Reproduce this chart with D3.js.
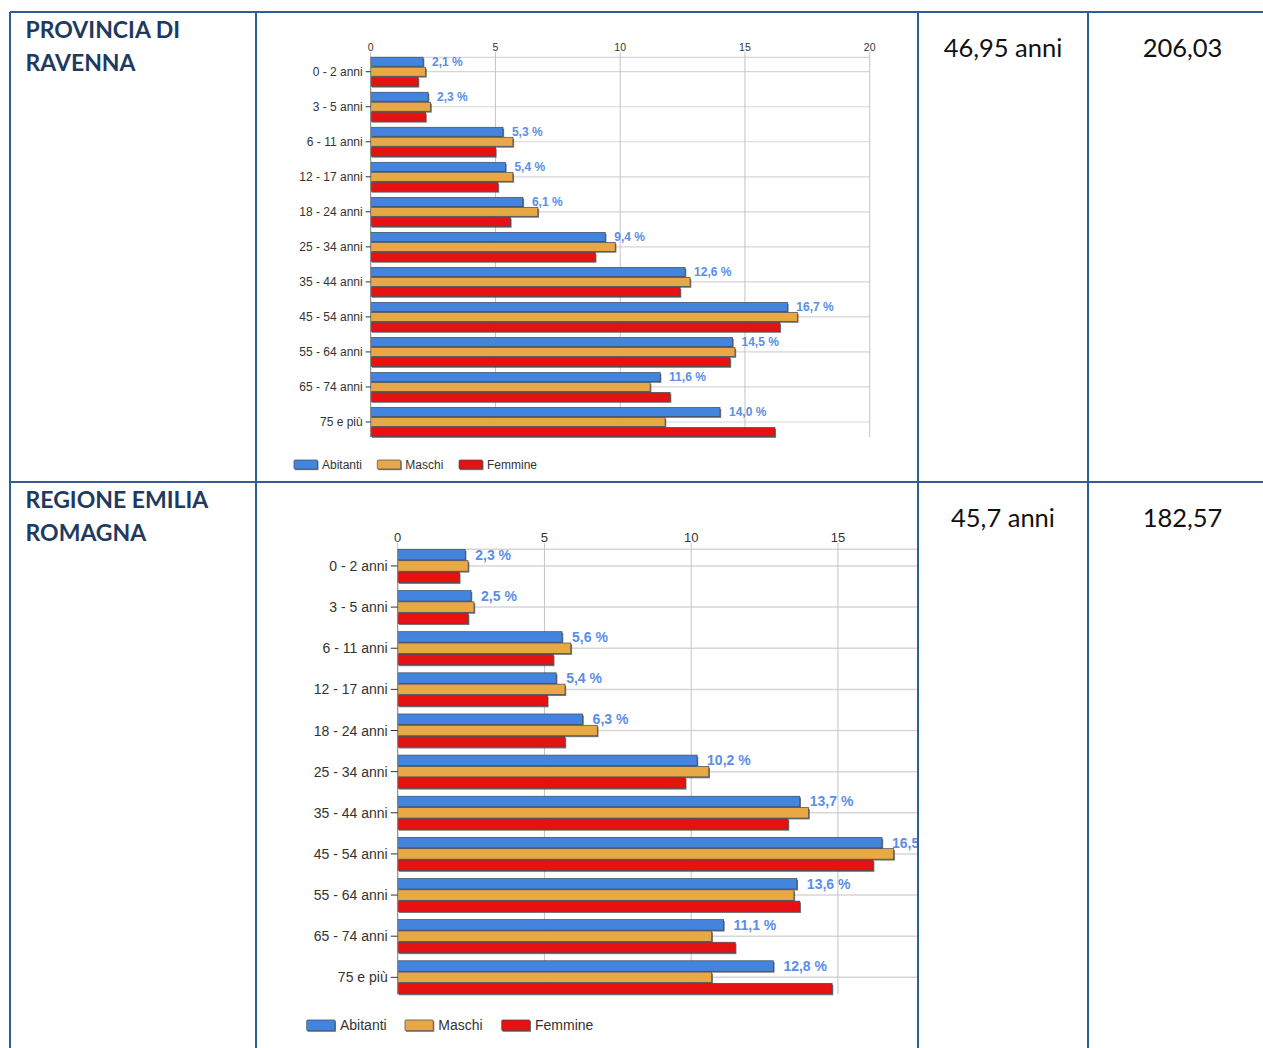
<!DOCTYPE html>
<html><head><meta charset="utf-8">
<script src="https://cdn.jsdelivr.net/npm/d3@7"></script>
<style>html,body{margin:0;padding:0;background:#fff;}svg{display:block;}</style>
</head><body>
<svg id="c" width="1263" height="1048"></svg>
<script>
const categories = ["0 - 2 anni","3 - 5 anni","6 - 11 anni","12 - 17 anni","18 - 24 anni","25 - 34 anni","35 - 44 anni","45 - 54 anni","55 - 64 anni","65 - 74 anni","75 e più"];
const seriesNames = ["Abitanti","Maschi","Femmine"];
const seriesColors = ["#4385de","#e8a846","#e61212"];
const ravennaAbitanti = [2.1,2.3,5.3,5.4,6.1,9.4,12.6,16.7,14.5,11.6,14.0];
const ravennaMaschi   = [2.2,2.4,5.7,5.7,6.7,9.8,12.8,17.1,14.6,11.2,11.8];
const ravennaFemmine  = [1.9,2.2,5.0,5.1,5.6,9.0,12.4,16.4,14.4,12.0,16.2];
const emiliaAbitanti  = [2.3,2.5,5.6,5.4,6.3,10.2,13.7,16.5,13.6,11.1,12.8];
const emiliaMaschi    = [2.4,2.6,5.9,5.7,6.8,10.6,14.0,16.9,13.5,10.7,10.7];
const emiliaFemmine   = [2.1,2.4,5.3,5.1,5.7,9.8,13.3,16.2,13.7,11.5,14.8];
const axisTicks = [0,5,10,15,20];
const rowTitles = [["PROVINCIA DI","RAVENNA"],["REGIONE EMILIA","ROMAGNA"]];
const etaMedia = ["46,95 anni","45,7 anni"];
const indiceVecchiaia = ["206,03","182,57"];

const svg = d3.select("#c");
const FONT = "'Liberation Sans', Arial, sans-serif";
const fmt = v => d3.format(".1f")(v).replace(".", ",") + " %";

function drawChart(series, cfg, id) {
  const g = svg.append("g");
  const x = d3.scaleLinear().domain([0,20]).range(cfg.xRange);
  const y = d3.scaleBand().domain(categories).range(cfg.yRange).paddingInner(0).paddingOuter(0);
  const clipId = "clip" + id;
  svg.append("clipPath").attr("id", clipId).append("rect")
    .attr("x", 0).attr("y", 0).attr("width", cfg.clipRight).attr("height", 1048);
  const p = g.append("g").attr("clip-path", `url(#${clipId})`);
  const hRight = cfg.hGridRight;
  p.append("line").attr("x1", x(0)).attr("x2", hRight).attr("y1", cfg.gridTop).attr("y2", cfg.gridTop)
    .attr("stroke", "#d6d6d6").attr("stroke-width", cfg.gw);
  p.selectAll(".hg").data(categories).join("line")
    .attr("x1", x(0)).attr("x2", hRight)
    .attr("y1", d => y(d) + y.bandwidth()/2).attr("y2", d => y(d) + y.bandwidth()/2)
    .attr("stroke", "#d6d6d6").attr("stroke-width", cfg.gw);
  p.selectAll(".vg").data(axisTicks).join("line")
    .attr("x1", d => x(d)).attr("x2", d => x(d))
    .attr("y1", cfg.vGridTop).attr("y2", cfg.vGridBottom)
    .attr("stroke", "#c4c4c4").attr("stroke-width", 1);
  p.selectAll(".tl").data(axisTicks).join("text")
    .attr("x", d => x(d)).attr("y", cfg.tickY).attr("text-anchor", "middle").attr("dominant-baseline", "central")
    .attr("font-family", FONT).attr("font-size", cfg.fontTick).attr("fill", "#333").text(d => d);
  const groupH = cfg.barStep * 2 + cfg.barH;
  series.forEach((vals, si) => {
    const rows = categories.map((c, i) => ({c, v: vals[i]}));
    const yTop = d => y(d.c) + y.bandwidth()/2 - groupH/2 + si * cfg.barStep;
    p.selectAll(".sh" + si).data(rows).join("rect")
      .attr("x", x(0) + 1.2).attr("y", d => yTop(d) + 1.4)
      .attr("width", d => x(d.v) - x(0)).attr("height", cfg.barH)
      .attr("fill", "#4a4a4a").attr("opacity", 0.75);
    p.selectAll(".b" + si).data(rows).join("rect")
      .attr("x", x(0)).attr("y", d => yTop(d))
      .attr("width", d => x(d.v) - x(0)).attr("height", cfg.barH)
      .attr("fill", seriesColors[si]).attr("stroke", "#3f4a5a").attr("stroke-width", 0.7);
    if (si === 0) {
      p.selectAll(".vl").data(rows).join("text")
        .attr("x", d => x(d.v) + cfg.valOff).attr("y", d => yTop(d) + cfg.barH/2)
        .attr("dominant-baseline", "central")
        .attr("font-family", FONT).attr("font-size", cfg.fontVal).attr("font-weight", "bold")
        .attr("fill", "#5b8ee6").text(d => fmt(d.v));
    }
  });
  g.append("line").attr("x1", x(0)).attr("x2", x(0)).attr("y1", cfg.gridTop).attr("y2", cfg.vGridBottom)
    .attr("stroke", "#8a8a8a").attr("stroke-width", 1);
  g.selectAll(".ct").data(categories).join("line")
    .attr("x1", x(0) - cfg.catTick).attr("x2", x(0))
    .attr("y1", d => y(d) + y.bandwidth()/2).attr("y2", d => y(d) + y.bandwidth()/2)
    .attr("stroke", "#333").attr("stroke-width", 1);
  g.selectAll(".cl").data(categories).join("text")
    .attr("x", x(0) - cfg.catTick - 3).attr("y", d => y(d) + y.bandwidth()/2)
    .attr("text-anchor", "end").attr("dominant-baseline", "central")
    .attr("font-family", FONT).attr("font-size", cfg.fontCat).attr("fill", "#333").text(d => d);
  const L = cfg.legend;
  seriesNames.forEach((n, i) => {
    g.append("rect").attr("x", L.x[i] + 1).attr("y", L.y - L.sh/2 + 1.2).attr("width", L.sw).attr("height", L.sh)
      .attr("fill", "#4a4a4a").attr("opacity", 0.7);
    g.append("rect").attr("x", L.x[i]).attr("y", L.y - L.sh/2).attr("width", L.sw).attr("height", L.sh)
      .attr("rx", 1).attr("fill", seriesColors[i]).attr("stroke", "#3f4a5a").attr("stroke-width", 0.7);
    g.append("text").attr("x", L.x[i] + L.sw + L.gap).attr("y", L.y).attr("dominant-baseline", "central")
      .attr("font-family", FONT).attr("font-size", L.font).attr("fill", "#333").text(n);
  });
}

drawChart([ravennaAbitanti, ravennaMaschi, ravennaFemmine], {
  xRange: [370.7, 869.7], yRange: [54.2, 439.5], barH: 9, barStep: 10,
  fontCat: 12, fontTick: 10.5, fontVal: 12, valOff: 9, tickY: 47,
  gridTop: 57.3, vGridTop: 52, vGridBottom: 437, hGridRight: 870, gw: 1.2,
  catTick: 5, clipRight: 916,
  legend: {y: 464.5, x: [294, 377.3, 459], sw: 23.5, sh: 9, font: 12, gap: 4.5}
}, 1);

drawChart([emiliaAbitanti, emiliaMaschi, emiliaFemmine], {
  xRange: [397.7, 984.7], yRange: [545.4, 997.9], barH: 10.5, barStep: 11.3,
  fontCat: 14, fontTick: 13, fontVal: 14, valOff: 10, tickY: 537,
  gridTop: 549.3, vGridTop: 543, vGridBottom: 994, hGridRight: 918, gw: 1.5,
  catTick: 7, clipRight: 917,
  legend: {y: 1025.3, x: [306.7, 405, 501.7], sw: 28.3, sh: 10.7, font: 14, gap: 5}
}, 2);

const titleFont = "Lato, 'Open Sans', sans-serif";
rowTitles.forEach((lines, r) => {
  const base = r === 0 ? 37.5 : 507.8;
  lines.forEach((t, k) => {
    svg.append("text").attr("x", 25.5).attr("y", base + k * 33.6)
      .attr("font-family", titleFont).attr("font-weight", "bold").attr("font-size", 23)
      .attr("fill", "#1f3a5f").text(t);
  });
  svg.append("text").attr("x", 1003).attr("y", r === 0 ? 56.7 : 526.7).attr("text-anchor", "middle")
    .attr("font-family", titleFont).attr("font-size", 25.5).attr("fill", "#111").text(etaMedia[r]);
  svg.append("text").attr("x", 1182.5).attr("y", r === 0 ? 56.7 : 526.7).attr("text-anchor", "middle")
    .attr("font-family", titleFont).attr("font-size", 25.5).attr("fill", "#111").text(indiceVecchiaia[r]);
});

const bc = "#2f5d96";
[[10,12,1263,12],[10,482,1263,482],[10,12,10,1048],[256,12,256,1048],[918,12,918,1048],[1088,12,1088,1048]]
  .forEach(([x1,y1,x2,y2]) => svg.append("line").attr("x1",x1).attr("y1",y1).attr("x2",x2).attr("y2",y2)
    .attr("stroke", bc).attr("stroke-width", 2));
</script>
</body></html>
